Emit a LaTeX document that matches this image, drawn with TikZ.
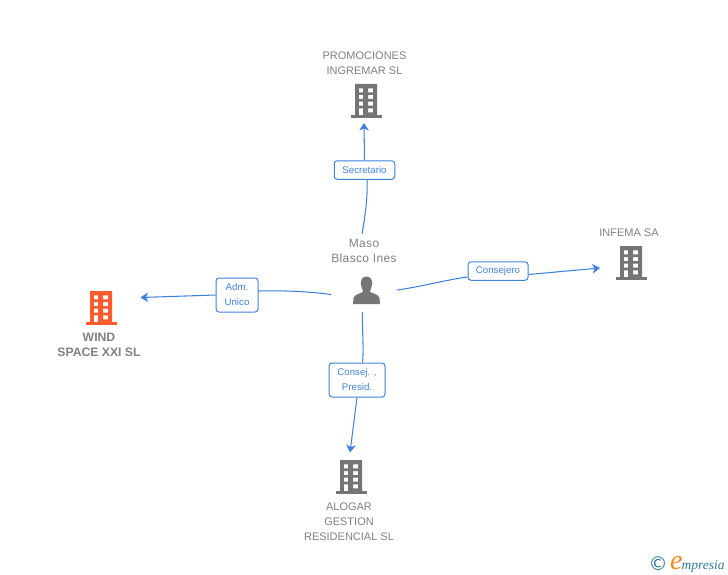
\documentclass[tikz,border=0pt]{standalone}
\usepackage{fontspec}
\setmainfont{Liberation Sans}
\newfontfamily\logofont{Liberation Serif}
\definecolor{linkblue}{HTML}{3F82DE}
\definecolor{txtgray}{HTML}{808080}
\definecolor{icongray}{HTML}{757575}
\definecolor{iconred}{HTML}{FF5A30}
\definecolor{logoteal}{HTML}{2F7C98}
\definecolor{logoorange}{HTML}{F28A1E}
\usetikzlibrary{arrows.meta}
\tikzset{
 x=1pt,y=-1pt,
 conn/.style={draw=linkblue,line width=1.05pt},
 arrowconn/.style={conn,-{Stealth[length=7.5pt,width=9.5pt,inset=2pt]}},
 rolebox/.style={draw=linkblue,fill=white,rounded corners=3pt,line width=1pt,text=linkblue,font=\fontsize{9.7}{15}\selectfont,align=center,inner sep=0pt},
 entity/.style={text=txtgray,font=\fontsize{11}{15}\selectfont,align=center,inner sep=0pt},
 entitybold/.style={entity,font=\bfseries\fontsize{12.2}{15}\selectfont},
 entitywide/.style={entity,font=\fontsize{12}{15}\selectfont\addfontfeature{LetterSpace=3}},
 iconspot/.style={minimum width=32pt,minimum height=32pt,inner sep=0pt},
 pics/building/.style={code={
   \fill[#1,even odd rule]
     (-11,-16) rectangle (11,15.2)
     (-7.2,-11.7) rectangle (-2.8,-7.7) (2.2,-11.7) rectangle (7.2,-7.7)
     (-7.2,-5) rectangle (-2.8,-1) (2.2,-5) rectangle (7.2,-1)
     (-7.2,1.7) rectangle (-2.8,5.7) (2.2,1.7) rectangle (7.2,5.7)
     (-7.2,8.3) rectangle (-2.8,15.2) (2.2,8.3) rectangle (7.2,12.3);
   \fill[#1] (-15.5,15) rectangle (15.5,17.7);
 }},
}
\begin{document}
\begin{tikzpicture}
\useasboundingbox (0,0) rectangle (728,575);
% entity icons
\node[iconspot] (promo) at (366,100) {};
\pic at (366,100) {building=icongray};
\node[iconspot] (infema) at (631,262) {};
\pic at (631,262) {building=icongray};
\node[iconspot] (wind) at (101,307) {};
\pic at (101,307) {building=iconred};
\node[iconspot] (alogar) at (351,476) {};
\pic at (351,476) {building=icongray};
% entity texts
\node[entity] (promotxt) at (364.5,63) {PROMOCIONES\\INGREMAR SL};
\node[entity] (infematxt) at (629,232.5) {INFEMA SA};
\node[entitybold] (windtxt) at (99,344.5) {WIND\\SPACE XXI SL};
\node[entity] (alogartxt) at (349,521.5) {ALOGAR\\GESTION\\RESIDENCIAL SL};
\node[entitywide] (masotxt) at (364,250.5) {Maso\\Blasco Ines};
% person
\node[minimum width=28pt,minimum height=28pt,inner sep=0pt] (maso) at (366.5,291) {};
\fill[icongray] (366.5,276.5) .. controls (361,276.5) and (360.5,282) .. (361,285)
  .. controls (361.5,288) and (363,290) .. (363,291.5)
  .. controls (363,293) and (354,294) .. (353.5,298) -- (353,304) -- (380,304) -- (379.5,298)
  .. controls (379,294) and (370,293) .. (370,291.5)
  .. controls (370,290) and (371.5,288) .. (372,285)
  .. controls (372.5,282) and (372,276.5) .. (366.5,276.5) -- cycle;
% role boxes
\node[rolebox,minimum width=60.5pt,minimum height=18.5pt] (secr) at (364.5,170) {Secretario};
\node[rolebox,minimum width=42pt,minimum height=34pt] (adm) at (237,295) {Adm.\\Unico};
\node[rolebox,minimum width=60pt,minimum height=18.5pt] (cons) at (498,271) {Consejero};
\node[rolebox,minimum width=56pt,minimum height=34pt] (pres) at (357,380) {Consej. ,\\Presid.};
% free ends of the connectors
\coordinate (mtop) at (362,234);
\coordinate (mleft) at (331,294.5);
\coordinate (mright) at (397,290);
\coordinate (mbottom) at (362.5,312);
\coordinate (ptop) at (364,123);
\coordinate (pleft) at (140.5,297.5);
\coordinate (pright) at (600,268);
\coordinate (pbottom) at (350,452.5);
% connectors
\draw[conn] (mtop) .. controls (365,218) and (368,195) .. (secr.south -| 367,0);
\draw[arrowconn] (secr.north) -- (ptop);
\draw[conn] (mleft) .. controls (305,291) and (280,290.5) .. (adm.east |- 0,291);
\draw[arrowconn] (adm.west |- 0,295) -- (pleft);
\draw[conn] (mright) .. controls (420,287) and (445,280) .. (cons.west |- 0,277);
\draw[arrowconn] (cons.east |- 0,274.5) -- (pright);
\draw[conn] (mbottom) .. controls (362,330) and (364,348) .. (pres.north -| 362.5,0);
\draw[arrowconn] (pres.south) -- (pbottom);
% logo
\node[inner sep=0pt,text=logoteal] (copy) at (658,564) {\fontspec{DejaVu Sans}\fontsize{19}{19}\selectfont ©};
\node[inner sep=0pt,anchor=base west] (logo) at (670,569) {\logofont\itshape\textcolor{logoorange}{\fontsize{28}{28}\selectfont e}\kern-1pt\textcolor{logoteal}{\fontsize{13.5}{14}\selectfont mpresia}};
\end{tikzpicture}
\end{document}
